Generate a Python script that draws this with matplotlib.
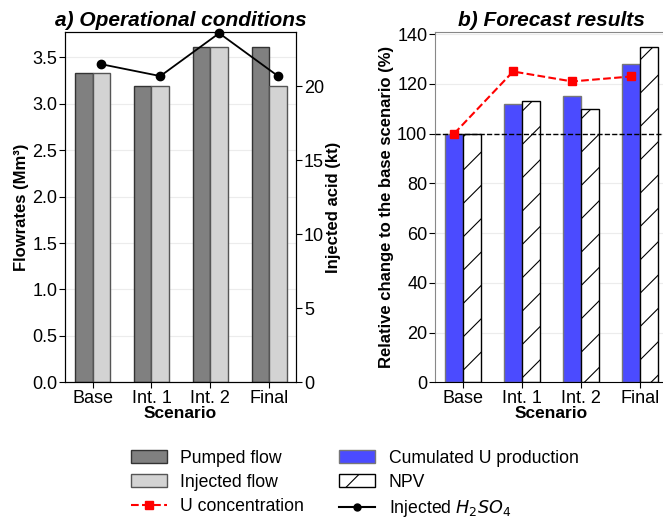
import matplotlib
matplotlib.use("Agg")
import matplotlib.pyplot as plt
from matplotlib.patches import Patch
from matplotlib.lines import Line2D
import numpy as np

plt.rcParams['font.family'] = ['Liberation Sans', 'DejaVu Sans']
plt.rcParams['hatch.linewidth'] = 0.8

scenarios = ['Base', 'Int. 1', 'Int. 2', 'Final']
pumped_flow = [3.33, 3.19, 3.61, 3.61]      # Mm3
injected_flow = [3.33, 3.19, 3.61, 3.19]    # Mm3
injected_acid = [21.5, 20.7, 23.6, 20.7]    # kt
u_production = [100, 112, 115, 128]         # %
npv = [100, 113, 110, 135]                  # %
u_concentration = [100, 125, 121, 123]      # %

x = np.arange(len(scenarios))
w = 0.3

fig = plt.figure(figsize=(6.63, 5.19), dpi=100)
ax1 = fig.add_axes([0.098, 0.2634, 0.348, 0.6755])
ax3 = fig.add_axes([0.656, 0.2634, 0.352, 0.6755])

# --- a) operational conditions
ax1.bar(x - w/2, pumped_flow, w, color='#808080', edgecolor='#333333', linewidth=1, zorder=2)
ax1.bar(x + w/2, injected_flow, w, color='#d3d3d3', edgecolor='#555555', linewidth=1, zorder=2)
ax1.set_ylim(0, 3.776)
ax1.set_xlim(-0.47, 3.45)
ax1.set_yticks(np.arange(0, 3.6, 0.5))
ax1.set_yticklabels([f'{v:.1f}' for v in np.arange(0, 3.6, 0.5)])
ax1.grid(axis='y', color='#ececec', linewidth=0.8, zorder=0)
ax1.set_axisbelow(True)
ax1.set_xticks(x)
ax1.set_xticklabels(scenarios)
ax1.set_xlabel('Scenario', fontsize=12.5, fontweight='bold', labelpad=-1)
ax1.set_ylabel('Flowrates (Mm³)', fontsize=12, fontweight='bold', labelpad=2)
ax1.set_title('a) Operational conditions', fontsize=15, fontweight='bold', style='italic', pad=4)
ax1.tick_params(labelsize=13, length=4, pad=1.5)

ax2 = ax1.twinx()
ax2.plot(x + w/2, injected_acid, color='black', marker='o', markersize=6, linewidth=1.3, clip_on=False)
ax2.set_ylim(0, 23.7)
ax2.set_yticks([0, 5, 10, 15, 20])
ax2.set_ylabel('Injected acid (kt)', fontsize=12, fontweight='bold', labelpad=1)
ax2.tick_params(labelsize=13, length=4, pad=2)

# --- b) forecast results
ax3.bar(x - w/2, u_production, w, color='#4b4bff', edgecolor='#777777', linewidth=1, zorder=2)
ax3.bar(x + w/2, npv, w, color='white', edgecolor='black', hatch='/', linewidth=1, zorder=2)
ax3.plot(x - w/2, u_concentration, color='red', linestyle='--', marker='s', markersize=6, linewidth=1.5, zorder=4)
ax3.axhline(100, color='black', linestyle='--', linewidth=1, zorder=3)
ax3.set_ylim(0, 141)
ax3.set_xlim(-0.475, 3.48)
ax3.set_yticks(np.arange(0, 141, 20))
ax3.grid(axis='y', color='#ececec', linewidth=0.8, zorder=0)
ax3.set_axisbelow(True)
ax3.set_xticks(x)
ax3.set_xticklabels(scenarios)
ax3.set_xlabel('Scenario', fontsize=12.5, fontweight='bold', labelpad=-1)
ax3.set_ylabel('Relative change to the base scenario (%)', fontsize=12, fontweight='bold', labelpad=2)
ax3.set_title('b) Forecast results', fontsize=15, fontweight='bold', style='italic', pad=4)
ax3.tick_params(labelsize=13, length=4, pad=1.5)
for s in ['left', 'top', 'right']:
    ax3.spines[s].set_color('#888888')

handles = [
    Patch(facecolor='#808080', edgecolor='#333333', label='Pumped flow'),
    Patch(facecolor='#d3d3d3', edgecolor='#555555', label='Injected flow'),
    Line2D([], [], color='red', linestyle='--', marker='s', markersize=6, label='U concentration'),
    Patch(facecolor='#4b4bff', edgecolor='#777777', label='Cumulated U production'),
    Patch(facecolor='white', edgecolor='black', hatch='/', label='NPV'),
    Line2D([], [], color='black', marker='o', markersize=5, label='Injected $H_2SO_4$'),
]
fig.legend(handles=handles, loc='upper left', bbox_to_anchor=(0.173, 0.164), ncol=2,
           frameon=False, fontsize=12.7, handlelength=2.05, columnspacing=2.0,
           handletextpad=0.75, labelspacing=0.4)

fig.savefig('out.png', dpi=100)
